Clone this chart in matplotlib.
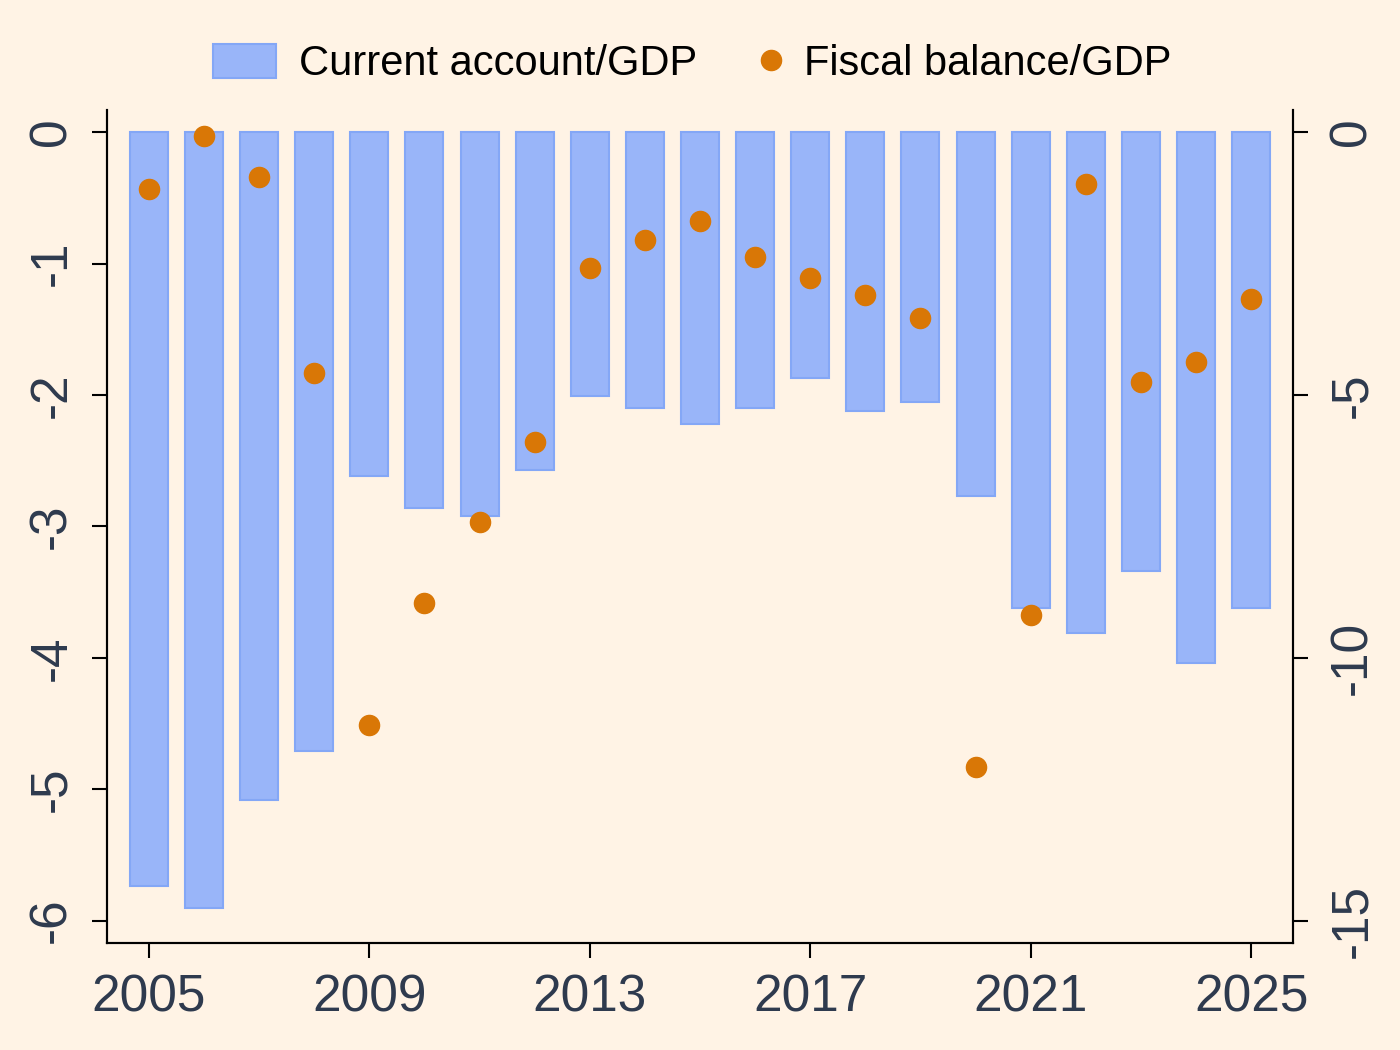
import numpy as np
import matplotlib
matplotlib.use("Agg")
import matplotlib.pyplot as plt
from matplotlib.patches import Patch
from matplotlib.lines import Line2D
from matplotlib.legend_handler import HandlerLine2D

plt.rcParams['font.family'] = ['Liberation Sans', 'DejaVu Sans']
plt.rcParams['axes.unicode_minus'] = False

years = list(range(2005, 2026))
# current account balance, % of GDP (left axis)
current_account = [-5.74, -5.90, -5.08, -4.71, -2.62, -2.86, -2.92, -2.57, -2.01, -2.10,
                   -2.22, -2.10, -1.87, -2.12, -2.05, -2.77, -3.62, -3.81, -3.34, -4.04, -3.62]
# fiscal balance, % of GDP (right axis)
fiscal_balance = [-1.08, -0.08, -0.86, -4.59, -11.28, -8.96, -7.42, -5.90, -2.59, -2.06,
                  -1.69, -2.38, -2.78, -3.10, -3.54, -12.08, -9.19, -0.99, -4.76, -4.38, -3.18]

bg = '#FFF3E5'
bar_face = '#99B5F9'
bar_edge = '#84A7F6'
dot_col = '#D97706'
tick_col = '#2E3A4E'


# marker sits near the right end of its legend slot, like the reference
class RightMarker(HandlerLine2D):
    def get_xdata(self, legend, xdescent, ydescent, width, height, fontsize):
        m = -xdescent + width - 7.2
        return [m - 1, m + 1], [m]


fig = plt.figure(figsize=(14, 10.5), dpi=100, facecolor=bg)
ax = fig.add_axes([0.0764, 0.1019, 0.8472, 0.7933])
ax.set_facecolor(bg)
ax2 = ax.twinx()

ax.bar(years, current_account, width=0.69, color=bar_face, edgecolor=bar_edge, linewidth=1.5, zorder=2)
ax2.plot(years, fiscal_balance, 'o', color=dot_col, markersize=14.5, zorder=3)

ax.set_xlim(2004.24, 2025.76)
ax.set_ylim(-6.17, 0.168)
ax2.set_ylim(-6.17 * 2.5, 0.168 * 2.5)

ax.set_xticks([2005, 2009, 2013, 2017, 2021, 2025])
ax.set_yticks([0, -1, -2, -3, -4, -5, -6])
ax2.set_yticks([0, -5, -10, -15])

for a in (ax, ax2):
    a.spines['top'].set_visible(False)
    for s in ('left', 'right', 'bottom'):
        a.spines[s].set_linewidth(1.5)
        a.spines[s].set_color('black')
    a.tick_params(length=11, width=1.5, labelsize=37, labelcolor=tick_col, pad=11)

ax.tick_params(axis='y', labelrotation=90)
ax2.tick_params(axis='y', labelrotation=90, pad=14)
for t in ax.get_yticklabels() + ax2.get_yticklabels():
    t.set_va('center')

bar_handle = Patch(facecolor=bar_face, edgecolor=bar_edge, linewidth=1.5)
dot_handle = Line2D([], [], marker='o', linestyle='none', color=dot_col, markersize=14.5)
labels = ['Current account/GDP', 'Fiscal balance/GDP']
fig.legend([bar_handle, dot_handle], labels, loc='center', bbox_to_anchor=(0.4946, 0.939), ncol=2,
           frameon=False, fontsize=30, handlelength=1.5, handleheight=0.89, handletextpad=0.55,
           columnspacing=0.53, handler_map={dot_handle: RightMarker()})

fig.savefig('out.png', dpi=100, facecolor=bg)
